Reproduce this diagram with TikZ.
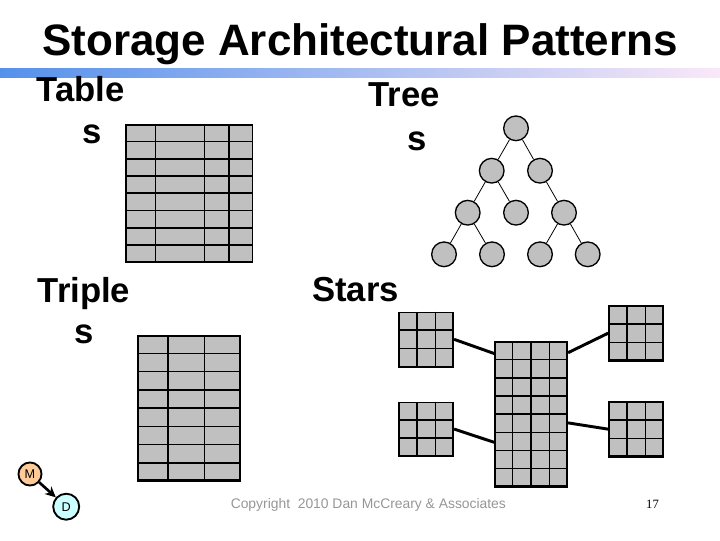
\documentclass[tikz,border=0pt]{standalone}
\usepackage{fontspec}
\setmainfont{Liberation Sans}
\newfontfamily\serifnum{Liberation Serif}
\usetikzlibrary{calc,arrows.meta}

\definecolor{cellgray}{RGB}{192,192,192}
\definecolor{mfill}{RGB}{255,204,153}
\definecolor{dfill}{RGB}{204,255,255}
\definecolor{copygray}{RGB}{150,150,150}
\definecolor{barleft}{RGB}{85,145,235}
\definecolor{barmid}{RGB}{140,195,250}
\definecolor{barright}{RGB}{250,232,248}

\newcommand{\gridlines}[3]{%
  \foreach \f in {#2}
    \draw[gridline] ($(#1.north west)!\f!(#1.north east)$) -- ($(#1.south west)!\f!(#1.south east)$);
  \foreach \rw in {1,...,#3}{
    \pgfmathsetmacro{\q}{\rw/#3}
    \draw[gridline] ($(#1.north west)!\q!(#1.south west)$) -- ($(#1.north east)!\q!(#1.south east)$);}
}

\begin{document}
\begin{tikzpicture}[x=0.75pt,y=0.75pt,yscale=-1,xscale=1,
  gridbox/.style={draw,line width=1.2pt,fill=cellgray,inner sep=0},
  gridline/.style={line width=1.2pt},
  lbl/.style={font=\bfseries\fontsize{26}{30}\selectfont,anchor=base,inner sep=0},
  tnode/.style={circle,draw,line width=1pt,fill=cellgray,minimum size=18.5pt,inner sep=0},
  tedge/.style={line width=0.6pt},
  link/.style={line width=2.2pt},
  mdnode/.style={circle,draw,line width=1.4pt,inner sep=0,font=\fontsize{9.5}{10}\selectfont}]
  \useasboundingbox (0,0) rectangle (720,540);
  \shade[left color=barleft,middle color=barmid,right color=barright] (0,68) rectangle (720,77);
  \node[font=\bfseries\fontsize{33}{38}\selectfont,anchor=base,inner sep=0] (title) at (360,55) {Storage Architectural Patterns};
  \node[lbl] (tabA) at (80.5,101) {Table};
  \node[lbl] (tabB) at (92,143.3) {s};
  \node[lbl] (treeA) at (404,106) {Tree};
  \node[lbl] (treeB) at (417,150) {s};
  \node[lbl] (tripA) at (84,302.3) {Triple};
  \node[lbl] (tripB) at (84,343.3) {s};
  \node[lbl] (stars) at (355.5,301) {Stars};

  \node[gridbox,minimum width=95pt,minimum height=102.4pt] (tab) at (189.35,193.25) {};
  \gridlines{tab}{0.237,0.618,0.807}{8}
  \node[gridbox,minimum width=76.3pt,minimum height=108.2pt] (trip) at (189.15,408.15) {};
  \gridlines{trip}{0.295,0.649}{8}

  \node[tnode] (t1) at (516,128.3) {};
  \node[tnode] (t2) at (491.7,170.7) {};
  \node[tnode] (t3) at (540,170.7) {};
  \node[tnode] (t4) at (467.7,212.7) {};
  \node[tnode] (t5) at (516,212.7) {};
  \node[tnode] (t6) at (564,212.7) {};
  \node[tnode] (t7) at (444,254.3) {};
  \node[tnode] (t8) at (492,254.3) {};
  \node[tnode] (t9) at (540,254.3) {};
  \node[tnode] (t10) at (587.7,254.3) {};
  \foreach \a/\b in {t1/t2,t1/t3,t2/t4,t2/t5,t3/t6,t4/t7,t4/t8,t6/t9,t6/t10}
    \draw[tedge] (\a) -- (\b);

  \node[gridbox,minimum width=40.7pt,minimum height=40.5pt] (tl) at (426.15,339.3) {};
  \gridlines{tl}{0.3333,0.6667}{3}
  \node[gridbox,minimum width=40.7pt,minimum height=40pt] (bl) at (426.15,429) {};
  \gridlines{bl}{0.3333,0.6667}{3}
  \node[gridbox,minimum width=54.2pt,minimum height=107.8pt] (ctr) at (531.15,414.15) {};
  \gridlines{ctr}{0.25,0.5,0.75}{8}
  \node[gridbox,minimum width=40.7pt,minimum height=40.7pt] (tr) at (636.15,333.15) {};
  \gridlines{tr}{0.3333,0.6667}{3}
  \node[gridbox,minimum width=40.7pt,minimum height=40.3pt] (br) at (636.15,429.15) {};
  \gridlines{br}{0.3333,0.6667}{3}
  \draw[link] (tl.east) -- ($(ctr.north west)!0.083!(ctr.south west)$);
  \draw[link] (bl.east) -- ($(ctr.north west)!0.694!(ctr.south west)$);
  \draw[link] ($(ctr.north east)!0.077!(ctr.south east)$) -- (tr.west);
  \draw[link] ($(ctr.north east)!0.56!(ctr.south east)$) -- (br.west);

  \node[mdnode,fill=mfill,minimum size=17.3pt] (m) at (30,474) {M};
  \node[mdnode,fill=dfill,minimum size=19.5pt] (d) at (66.2,506.7) {D};
  \draw[line width=2pt,-{Stealth[length=8pt,width=7.5pt]}] (m) -- (d);

  \node[font=\fontsize{10.4}{12}\selectfont,text=copygray,anchor=base west,inner sep=0] (copy) at (230.5,508) {Copyright\ \ 2010 Dan McCreary \& Associates};
  \node[font=\serifnum\fontsize{9.5}{11}\selectfont,anchor=base,inner sep=0] (pnum) at (652.5,508) {17};
\end{tikzpicture}
\end{document}
